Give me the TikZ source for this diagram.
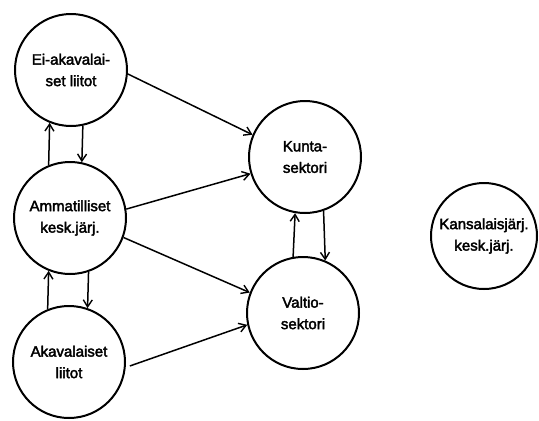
\documentclass[tikz,border=0pt]{standalone}
\usepackage{fontspec}
\setmainfont{Liberation Sans}
\newfontfamily\labfont{Liberation Sans}[FakeBold=2.5]
\usetikzlibrary{arrows.meta}
\begin{document}
\begin{tikzpicture}[x=1pt,y=-1pt,
  org/.style={draw, circle, line width=2pt, minimum size=112pt, inner sep=0pt, align=center,
    font=\labfont\fontsize{15}{21.5}\selectfont},
  flow/.style={line width=1.5pt, -{Straight Barb[length=7pt,width=9pt,line width=1.4pt]}}]
\useasboundingbox (0,0) rectangle (539,421);
\node[org] (ei) at (71,70) {Ei-akavalai-\\set liitot};
\node[org] (am) at (70,218) {Ammatilliset\\kesk.järj.};
\node[org] (ak) at (69,362) {Akavalaiset\\liitot};
\node[org] (ku) at (305,157) {Kunta-\\sektori};
\node[org] (va) at (303,313) {Valtio-\\sektori};
\node[org, minimum size=106pt] (ks) at (484,236) {Kansalaisjärj.\\kesk.järj.};
\draw[flow] (ei.-4) -- (ku.157);
\draw[flow] (am.9) -- (ku.197);
\draw[flow] (am.-20) -- (va.159);
\draw[flow] ([xshift=4pt]ak.-4) -- (va.192);
\draw[flow] (am.112) -- (ei.-112);
\draw[flow] (ei.-78) -- (am.78);
\draw[flow] (ak.112) -- (am.-112);
\draw[flow] (am.-71) -- (ak.71);
\draw[flow] (va.100) -- (ku.-100);
\draw[flow] (ku.-71) -- (va.67);
\end{tikzpicture}
\end{document}
